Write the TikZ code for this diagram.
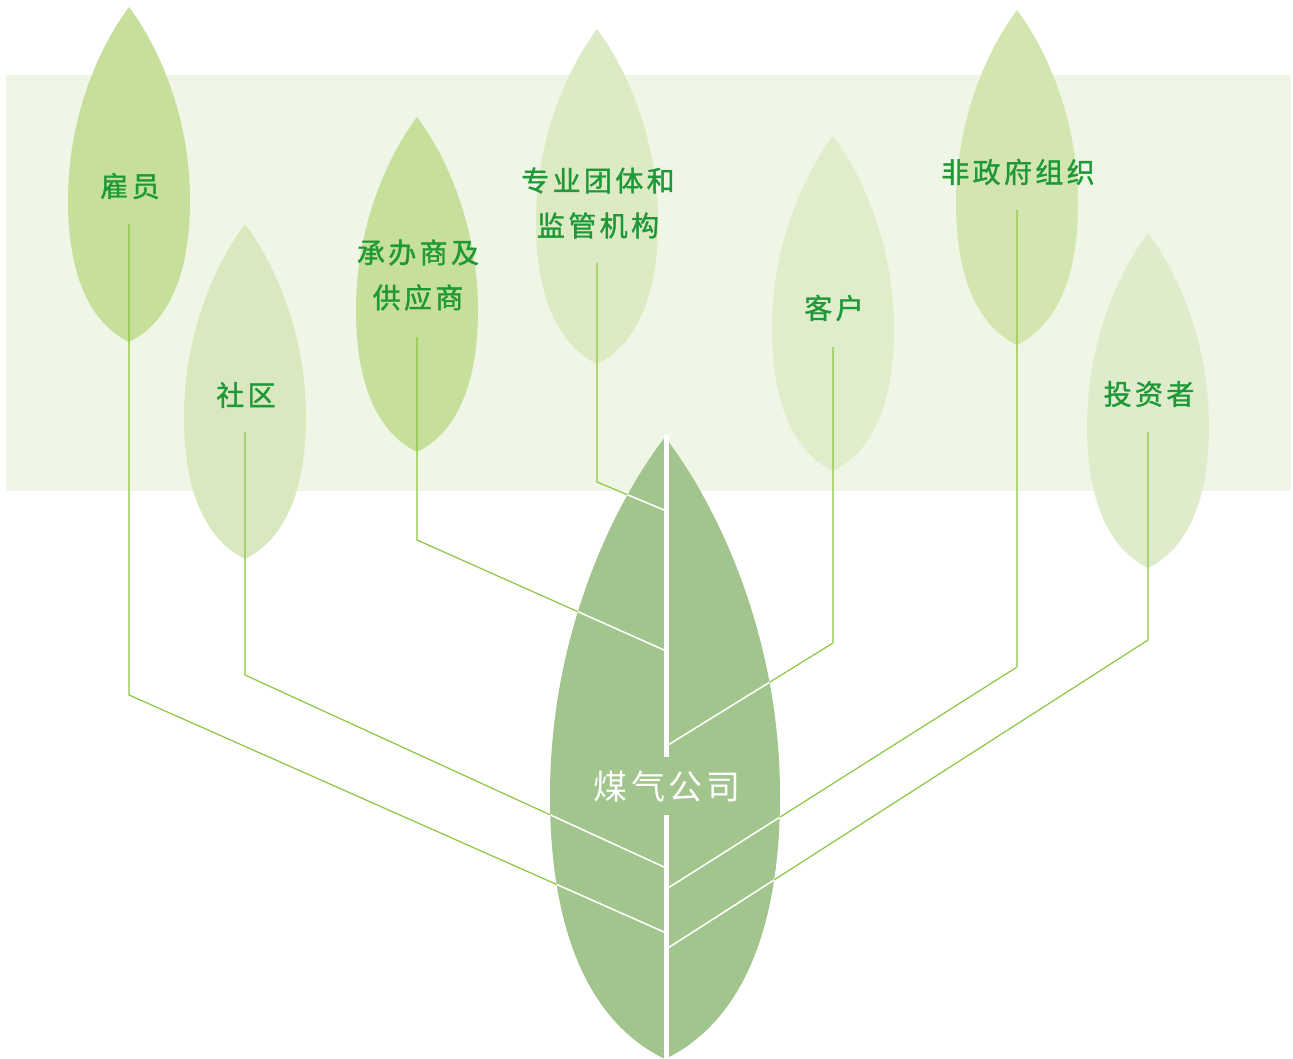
\documentclass[tikz,border=0pt]{standalone}
\usepackage{fontspec}
\newfontfamily\cjklabel[LetterSpace=12,FakeBold=1.3]{Noto Sans CJK SC}
\newfontfamily\cjkmain[LetterSpace=10]{Noto Sans CJK SC}
\definecolor{bandcol}{HTML}{EFF6E6}
\definecolor{leafA}{HTML}{C6DF9A}
\definecolor{leafB}{HTML}{DAE8C0}
\definecolor{leafC}{HTML}{DDEBC4}
\definecolor{leafD}{HTML}{E0EDCB}
\definecolor{leafE}{HTML}{D4E6B0}
\definecolor{leafF}{HTML}{DFECCB}
\definecolor{mainleaf}{HTML}{A1C58C}
\definecolor{linkcol}{HTML}{8CC63F}
\definecolor{labelcol}{HTML}{1F9838}
\tikzset{
  leaf/.pic={\fill[pic actions] (0,0) .. controls (30,40) and (61,110) .. (61,193)
      .. controls (61,275) and (35,318) .. (0,335)
      .. controls (-35,318) and (-61,275) .. (-61,193)
      .. controls (-61,110) and (-30,40) .. (0,0) -- cycle;},
  lbl/.style={text=labelcol, font=\cjklabel\fontsize{28}{45}\selectfont, align=center, inner sep=0pt},
  link/.style={draw=linkcol, line width=1.2pt},
  vein/.style={draw=white, line width=1.6pt},
}
\begin{document}
\begin{tikzpicture}[x=1pt,y=-1pt]
\useasboundingbox (0,0) rectangle (1293,1059);
\fill[bandcol] (6,75) rectangle (1291,491);
% small leaves
\pic[fill=leafA] at (129,7) {leaf};
\pic[fill=leafB] at (245,224) {leaf};
\pic[fill=leafA] at (417,117) {leaf};
\pic[fill=leafC] at (597,29) {leaf};
\pic[fill=leafD] at (833,136) {leaf};
\pic[fill=leafE] at (1017,10) {leaf};
\pic[fill=leafF] at (1148,233) {leaf};
% central leaf
\def\mainleafpath{(665,437) .. controls (721.6,511.3) and (780,641.3) .. (780,795.4)
  .. controls (780,947.7) and (731,1027.5) .. (665,1059)
  .. controls (599,1027.5) and (550,947.7) .. (550,795.4)
  .. controls (550,641.3) and (608.4,511.3) .. (665,437) -- cycle}
\fill[mainleaf] \mainleafpath;
% labels
\node[lbl] (emp) at (130,186) {雇员};
\node[lbl] (com) at (246,395) {社区};
\node[lbl] (sup) at (418,275) {承办商及\\供应商};
\node[lbl] (pro) at (598,203) {专业团体和\\监管机构};
\node[lbl] (cus) at (834,308) {客户};
\node[lbl] (ngo) at (1018,172) {非政府组织};
\node[lbl] (inv) at (1149,394) {投资者};
\node[text=white, font=\cjkmain\fontsize{34}{40}\selectfont, inner sep=0pt] (gas) at (667,787) {煤气公司};
% connector points
\coordinate (empS) at (129,224); \coordinate (empB) at (129,695); \coordinate (empE) at (664,932);
\coordinate (comS) at (245,432); \coordinate (comB) at (245,675); \coordinate (comE) at (664,867);
\coordinate (supS) at (417,337); \coordinate (supB) at (417,540); \coordinate (supE) at (664,650);
\coordinate (proS) at (597,263); \coordinate (proB) at (597,482); \coordinate (proE) at (664,510);
\coordinate (cusS) at (833,347); \coordinate (cusB) at (833,643); \coordinate (cusE) at (668,745);
\coordinate (ngoS) at (1017,210); \coordinate (ngoB) at (1017,667); \coordinate (ngoE) at (668,888);
\coordinate (invS) at (1148,432); \coordinate (invB) at (1148,640); \coordinate (invE) at (668,948);
% green connectors
\foreach \n in {emp,com,sup,pro,cus,ngo,inv}{
  \draw[link] (\n S) -- (\n B) -- (\n E);
}
% white veins inside the central leaf
\begin{scope}
\clip \mainleafpath;
\foreach \n in {emp,com,sup,pro,cus,ngo,inv}{
  \draw[vein] (\n B) -- (\n E);
}
\end{scope}
% midrib
\coordinate (ribT) at (666,435); \coordinate (ribM1) at (666,757);
\coordinate (ribM2) at (666,815); \coordinate (ribB) at (666,1059);
\draw[white, line width=5pt] (ribT) -- (ribM1);
\draw[white, line width=5pt] (ribM2) -- (ribB);
\end{tikzpicture}
\end{document}
